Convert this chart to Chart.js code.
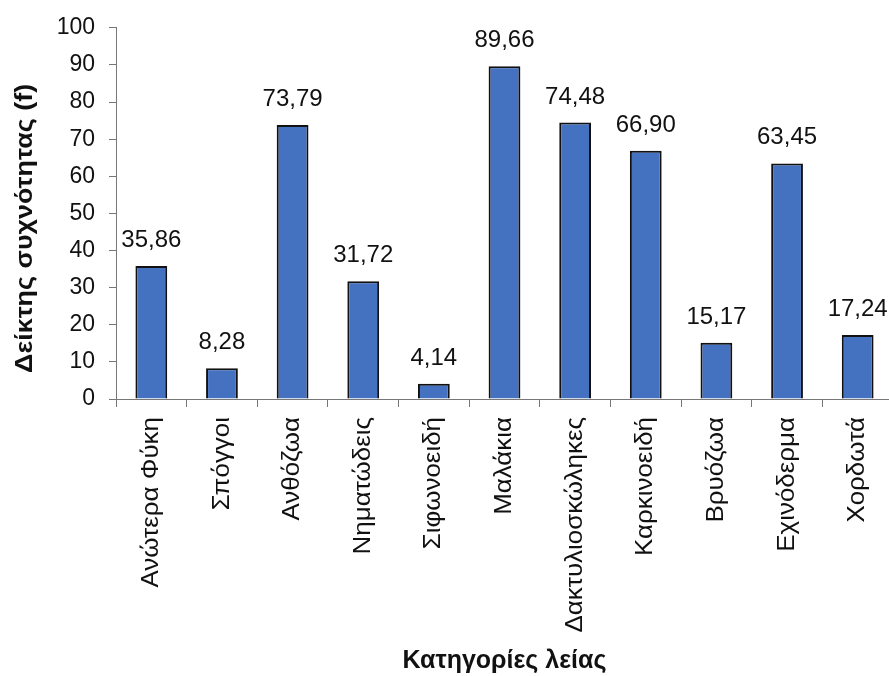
<!DOCTYPE html>
<html>
<head>
<meta charset="utf-8">
<script src="https://cdn.jsdelivr.net/npm/chart.js@4/dist/chart.umd.min.js"></script>
<style>
  html, body { margin: 0; padding: 0; background: #fff; overflow: hidden; }
  #wrap { width: 895px; height: 676px; }
</style>
</head>
<body>
<div id="wrap"><canvas id="chart"></canvas></div>
<script>
const categories = [
  "Ανώτερα Φύκη", "Σπόγγοι", "Ανθόζωα", "Νηματώδεις", "Σιφωνοειδή",
  "Μαλάκια", "Δακτυλιοσκώληκες", "Καρκινοειδή", "Βρυόζωα", "Εχινόδερμα", "Χορδωτά"
];
const values = [35.86, 8.28, 73.79, 31.72, 4.14, 89.66, 74.48, 66.90, 15.17, 63.45, 17.24];
const yTicks = [0, 10, 20, 30, 40, 50, 60, 70, 80, 90, 100];
const yTitle = "Δείκτης συχνότητας (f)";
const xTitle = "Κατηγορίες λείας";

const FONT = "'Liberation Sans', Arial, sans-serif";

// the scanned original has its vertical text a bit stretched, so the
// rotated labels and the y title are drawn here with a little x-scale
const extraText = {
  id: "extraText",
  afterDraw(chart) {
    const ctx = chart.ctx;
    const area = chart.chartArea;
    const xs = chart.scales.x;
    const meta = chart.getDatasetMeta(0);
    ctx.save();
    ctx.fillStyle = "#111";

    // value labels above bars
    ctx.font = "24px " + FONT;
    ctx.textAlign = "center";
    ctx.textBaseline = "alphabetic";
    meta.data.forEach((bar, i) => {
      ctx.fillText(values[i].toFixed(2).replace(".", ","), bar.x, bar.y - 19);
    });

    // category labels, rotated
    ctx.font = "24px " + FONT;
    ctx.textAlign = "right";
    ctx.textBaseline = "middle";
    categories.forEach((c, i) => {
      ctx.save();
      ctx.translate(xs.getPixelForValue(i), area.bottom + 18);
      ctx.rotate(-Math.PI / 2);
      ctx.scale(1.08, 1);
      ctx.fillText(c, 0, 0);
      ctx.restore();
    });

    // y axis title
    ctx.font = "bold 24px " + FONT;
    ctx.textAlign = "center";
    ctx.textBaseline = "middle";
    ctx.translate(25, (area.top + area.bottom) / 2 + 15);
    ctx.rotate(-Math.PI / 2);
    ctx.scale(1.12, 1);
    ctx.fillText(yTitle, 0, 0);
    ctx.restore();
  }
};

new Chart(document.getElementById("chart"), {
  type: "bar",
  data: {
    labels: categories,
    datasets: [{
      data: values,
      backgroundColor: "#4571c1",
      borderColor: "#111",
      borderWidth: 2,
      barPercentage: 0.45,
      categoryPercentage: 1
    }]
  },
  options: {
    responsive: true,
    maintainAspectRatio: false,
    animation: false,
    layout: { padding: { top: 20, right: 2, bottom: 0, left: 0 } },
    plugins: {
      legend: { display: false },
      tooltip: { enabled: false }
    },
    scales: {
      x: {
        grid: {
          offset: true,
          drawOnChartArea: false,
          tickLength: 8,
          color: "#777"
        },
        border: { color: "#777", width: 1 },
        ticks: { display: false },
        title: {
          display: true,
          text: xTitle,
          color: "#111",
          font: { family: FONT, size: 25, weight: "bold" },
          padding: { top: 0, bottom: 0 }
        },
        afterFit(axis) { axis.height = 277; }
      },
      y: {
        min: 0,
        max: 100,
        afterBuildTicks(axis) { axis.ticks = yTicks.map(v => ({ value: v })); },
        grid: {
          drawOnChartArea: false,
          tickLength: 7,
          color: "#777"
        },
        border: { color: "#777", width: 1 },
        ticks: {
          color: "#111",
          font: { family: FONT, size: 23 },
          padding: 14
        },
        afterFit(axis) { axis.width = 116; }
      }
    }
  },
  plugins: [extraText]
});
</script>
</body>
</html>
